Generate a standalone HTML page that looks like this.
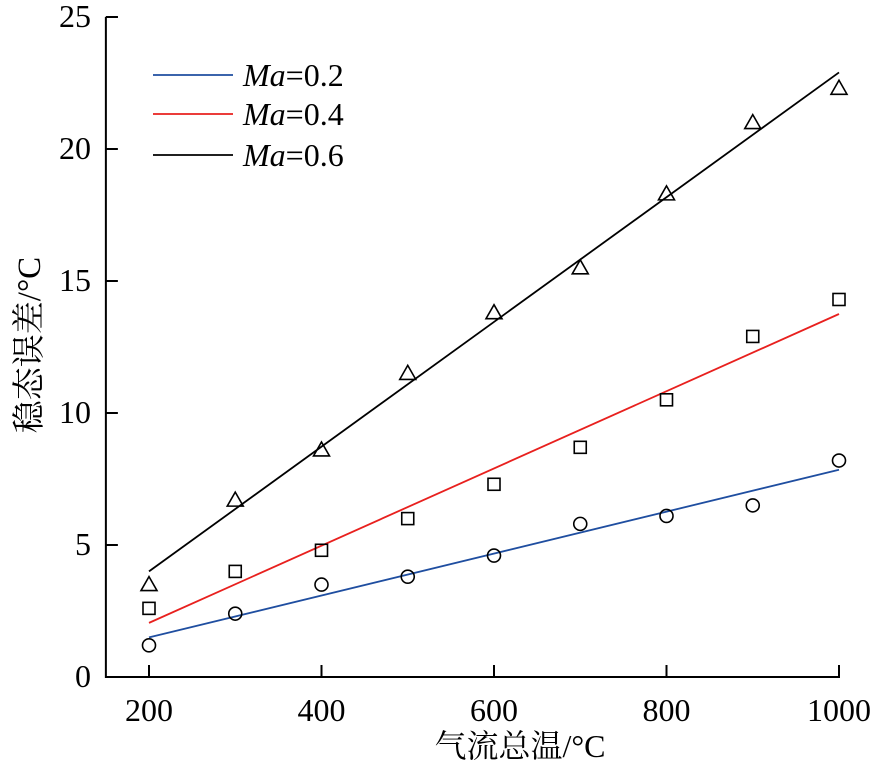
<!DOCTYPE html>
<html><head><meta charset="utf-8"><style>
body{margin:0;background:#fff}
svg text{font-family:"Liberation Serif","Noto Serif CJK SC",serif;fill:#000}
</style></head><body>
<svg id="c" width="895" height="770" xmlns="http://www.w3.org/2000/svg"></svg>
<script>
const xCats=[200,300,400,500,600,700,800,900,1000];
const xTicks=[200,400,600,800,1000];
const yTicks=[0,5,10,15,20,25];
const ma02=[1.2,2.4,3.5,3.8,4.6,5.8,6.1,6.5,8.2];
const ma04=[2.6,4.0,4.8,6.0,7.3,8.7,10.5,12.9,14.3];
const ma06=[3.5,6.7,8.6,11.5,13.8,15.5,18.3,21.0,22.3];
const fit02=[1.5,7.85];
const fit04=[2.05,13.75];
const fit06=[4.0,22.9];
const svg=document.getElementById('c');
const NS='http://www.w3.org/2000/svg';
const X=v=>149+(v-200)*(839-149)/800;
const Y=v=>677-v*(677-17)/25;
function mk(t,a,p){const e=document.createElementNS(NS,t);for(const k in a)e.setAttribute(k,a[k]);(p||svg).appendChild(e);return e;}
let ax=mk('path',{d:`M${X(150)} ${Y(25)}H${X(150)+12}M${X(150)} ${Y(25)}V${Y(0)}H${X(1000)}V${Y(0)-12}`,fill:'none',stroke:'#000','stroke-width':2});


yTicks.forEach(v=>{
 const l=mk('line',{x1:X(150),x2:X(150)+12,y1:Y(v),y2:Y(v),stroke:'#000','stroke-width':2});
 
 
 const t=mk('text',{x:91,y:Y(v)+10,'text-anchor':'end','font-size':32});
 t.textContent=v;
 
 
});
xTicks.forEach(v=>{
 const l=mk('line',{x1:X(v),x2:X(v),y1:Y(0),y2:Y(0)-12,stroke:'#000','stroke-width':2});
 
 
 const t=mk('text',{x:X(v),y:721,'text-anchor':'middle','font-size':32});
 t.textContent=v;
 
 
});
const xt=mk('text',{x:520,y:757,'text-anchor':'middle','font-size':32});
xt.textContent='气流总温/°C';


const yt=mk('text',{x:0,y:0,'text-anchor':'middle','font-size':33,transform:'translate(40,345) rotate(-90)'});
yt.textContent='稳态误差/°C';


function fit(f,col,name){
 const l=mk('line',{x1:X(200),y1:Y(f[0]),x2:X(1000),y2:Y(f[1]),stroke:col,'stroke-width':1.8});
 
 
}
fit(fit02,'#1f4ea0','fit-line-ma02');
fit(fit04,'#e8201e','fit-line-ma04');
fit(fit06,'#000','fit-line-ma06');
ma02.forEach((v,i)=>{const e=mk('circle',{cx:X(xCats[i]),cy:Y(v),r:6.5,fill:'none',stroke:'#000','stroke-width':1.6});
 
 });
ma04.forEach((v,i)=>{const e=mk('rect',{x:X(xCats[i])-6,y:Y(v)-6,width:12,height:12,fill:'none',stroke:'#000','stroke-width':1.6});
 
 });
ma06.forEach((v,i)=>{const cx=X(xCats[i]),cy=Y(v);const e=mk('path',{d:`M${cx} ${cy-8}L${cx+8} ${cy+6}H${cx-8}Z`,fill:'none',stroke:'#000','stroke-width':1.6});
 
 });
[['#1f4ea0','0.2',75],['#e8201e','0.4',114],['#000','0.6',155]].forEach(([c,m,y])=>{
 const g=mk('g',{});
 
 
 mk('line',{x1:153,x2:233,y1:y,y2:y,stroke:c,'stroke-width':1.8},g);
 const t=mk('text',{x:243,y:y+11,'font-size':32},g);
 t.innerHTML='<tspan font-style="italic">Ma</tspan>=0'+m.slice(1);
});
</script>
</body></html>
